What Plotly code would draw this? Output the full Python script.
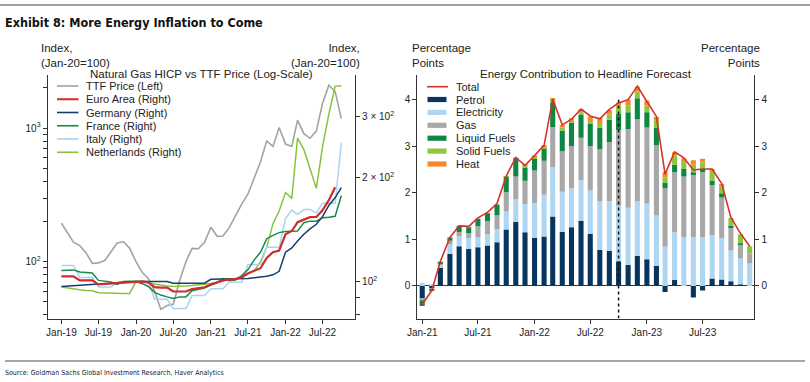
import pandas as pd
import plotly.graph_objects as go

W, H = 810, 382

# ---------------- Left chart data (Jan-19 .. Oct-22) ----------------
left_months = pd.date_range("2019-01-01", periods=46, freq="MS")
ttf = [194, 165, 140, 132, 117, 97, 98, 102, 120, 138, 141, 126,
       100, 83, 75, 60, 44, 47, 48, 72, 100, 126, 125, 140,
       181, 155, 156, 180, 220, 270, 320, 420, 560, 800, 730, 1010,
       760, 730, 1150, 910, 840, 955, 1530, 2100, 1880, 1180]
euro_area = [103.4, 103.4, 103.4, 100.7, 100.7, 100.7, 98, 98.3, 98.5, 99, 99.5, 99.8,
             100, 100, 99.5, 96.3, 96, 96, 93.5, 93.5, 93.5, 95, 95.5, 96.2,
             98, 99.5, 100.7, 101.4, 101.5, 102.9, 105.4, 107.3, 109.2, 117, 121.5, 122.8,
             137, 140, 148.5, 151, 153.5, 153.8, 160.7, 172, 187.5]
germany = [96.7, 97.0, 97.3, 97.6, 97.9, 98.2, 98.4, 98.6, 98.8, 99.2, 99.6, 100,
           100, 100, 100, 100, 100, 100, 98.8, 98.8, 98.8, 98.8, 98.8, 98.8,
           101.4, 101.5, 101.5, 101.5, 101.5, 101.6, 102, 102.5, 102.9, 103.5, 104.5, 107,
           121.5, 125, 131, 137, 142, 146.4, 154, 166, 175, 187]
france = [107.6, 107.8, 108, 106.5, 106.2, 105.8, 100.7, 100.4, 99.7, 98, 100, 100.2,
          100, 98.5, 96.7, 93, 91.3, 90.2, 89.3, 90.2, 90.2, 94, 95, 95.7,
          97.6, 99, 102, 100.7, 101, 104, 108, 115.5, 121.5, 133, 136, 138.5,
          139.6, 139.6, 140, 148, 149.5, 149.5, 153, 153.5, 154.5, 177]
italy = [111.3, 111.3, 111.3, 102.7, 102.7, 102.7, 96.3, 96.3, 96.3, 99.5, 100, 100,
         100, 100, 100, 88.8, 88.8, 88.8, 83.5, 83.5, 83.5, 91, 91, 91,
         95.2, 95.2, 95.2, 99.6, 99.6, 99.6, 112, 112, 112, 125.5, 125.5, 125.5,
         152, 161, 156.5, 161.5, 161.5, 158, 168.5, 168.5, 168.5, 252]
netherlands = [96.3, 95.6, 95.2, 94.6, 94.2, 94, 92.7, 92.5, 92.3, 92.3, 92.2, 92.3,
               100, 99.5, 98.8, 98.2, 97.6, 97, 96.6, 96.6, 97, 97.3, 97.6, 98.2,
               98.6, 99.5, 100.5, 101.4, 102, 102.9, 105.4, 107.3, 114, 125.5, 147, 160,
               181, 174, 260, 241, 212, 186, 245, 305, 368, 369]
left_ticks = pd.date_range("2019-01-01", "2022-07-01", freq="6MS")

# ---------------- Right chart data (Jan-21 .. Dec-23) ----------------
right_months = pd.date_range("2021-01-01", periods=36, freq="MS")
petrol = [-0.28, -0.05, 0.39, 0.69, 0.85, 0.80, 0.83, 0.87, 0.94, 1.21, 1.38, 1.15,
          1.03, 1.06, 1.49, 1.16, 1.26, 1.40, 1.12, 0.77, 0.75, 0.53, 0.45, 0.64,
          0.57, 0.43, -0.13, 0.13, 0.0, -0.25, -0.10, 0.16, 0.14, 0.10, 0.03, 0.0]
electricity = [0.07, 0.02, 0.07, 0.20, 0.21, 0.23, 0.22, 0.24, 0.28, 0.39, 0.48, 0.61,
               0.75, 0.90, 1.06, 0.86, 0.83, 0.87, 0.93, 1.05, 1.07, 1.19, 1.23, 1.18,
               1.20, 1.08, 0.84, 1.02, 1.05, 1.05, 1.05, 0.93, 0.89, 0.66, 0.56, 0.48]
gas = [-0.03, -0.02, 0.02, 0.08, 0.10, 0.10, 0.23, 0.28, 0.30, 0.41, 0.49, 0.50,
       0.70, 0.73, 0.86, 0.87, 0.91, 0.91, 0.95, 1.12, 1.27, 1.63, 1.69, 1.76,
       1.63, 1.51, 1.26, 1.29, 1.30, 1.33, 1.39, 1.08, 0.87, 0.50, 0.31, 0.21]
liquid_fuels = [-0.12, -0.03, 0.04, 0.07, 0.13, 0.13, 0.16, 0.17, 0.23, 0.34, 0.40, 0.27,
                0.25, 0.27, 0.52, 0.45, 0.50, 0.50, 0.48, 0.46, 0.48, 0.35, 0.36, 0.45,
                0.33, 0.38, 0.11, 0.16, 0.16, 0.06, 0.07, 0.09, 0.09, 0.04, 0.01, 0.0]
solid_fuels = [0, 0, 0, 0, 0, 0, 0, 0, 0, 0.01, 0.0, 0.05,
               0.03, 0.03, 0.07, 0.06, 0.05, 0.05, 0.06, 0.10, 0.11, 0.18, 0.15, 0.15,
               0.15, 0.16, 0.12, 0.20, 0.17, 0.16, 0.14, 0.21, 0.15, 0.16, 0.20, 0.16]
heat = [0, 0, 0, 0, 0, 0, 0, 0, 0, 0, 0.0, 0.02,
        0.04, 0.03, 0.02, 0.06, 0.05, 0.07, 0.10, 0.11, 0.10, 0.06, 0.12, 0.10,
        0.10, 0.07, 0.11, 0.07, 0.06, 0.10, 0.08, 0.04, 0.05, 0.0, 0.0, 0.0]
total = [-0.40, -0.10, 0.53, 1.04, 1.29, 1.28, 1.46, 1.58, 1.77, 2.36, 2.76, 2.59,
         2.80, 3.02, 4.01, 3.46, 3.58, 3.80, 3.65, 3.59, 3.79, 3.93, 4.00, 4.29,
         3.96, 3.64, 2.40, 2.88, 2.75, 2.49, 2.51, 2.51, 2.20, 1.47, 1.13, 0.85]
right_ticks = pd.date_range("2021-01-01", "2023-07-01", freq="6MS")
forecast_start = "2022-10-01"

# ---------------- styling ----------------
FONT = "Liberation Sans, Arial, sans-serif"
NARROW = "DejaVu Sans Condensed, Liberation Sans, sans-serif"
TXT = "#222222"
AX = "#333333"

c_ttf, c_ea, c_de, c_fr, c_it, c_nl = "#a3a3a3", "#d12b2b", "#173f6a", "#168a4a", "#a9d3f3", "#86c440"
c_pet, c_ele, c_gas, c_liq, c_sol, c_heat, c_tot = ("#06365f", "#aed6f2", "#a8a8a8", "#0f8642",
                                                     "#8dc63f", "#f5892a", "#d6312b")


def px(x):
    return x / W


def py(y):
    return 1 - y / H


fig = go.Figure()

# left chart lines
fig.add_trace(go.Scatter(x=left_months, y=ttf, xaxis="x", yaxis="y", mode="lines",
                         line=dict(color=c_ttf, width=1.6), showlegend=False))
for vals, col, wd in [(netherlands, c_nl, 1.5), (italy, c_it, 1.5), (france, c_fr, 1.5),
                      (germany, c_de, 1.5), (euro_area, c_ea, 2.2)]:
    fig.add_trace(go.Scatter(x=left_months[:len(vals)], y=vals, xaxis="x", yaxis="y2",
                             mode="lines", line=dict(color=col, width=wd), showlegend=False))

# right chart bars
bar_w = 16.5 * 24 * 3600 * 1000
for vals, col in [(petrol, c_pet), (electricity, c_ele), (gas, c_gas),
                  (liquid_fuels, c_liq), (solid_fuels, c_sol), (heat, c_heat)]:
    fig.add_trace(go.Bar(x=right_months, y=vals, xaxis="x3", yaxis="y3", width=bar_w,
                         marker=dict(color=col, line=dict(width=0)), showlegend=False))
fig.add_trace(go.Scatter(x=right_months, y=total, xaxis="x3", yaxis="y3", mode="lines",
                         line=dict(color=c_tot, width=1.6), showlegend=False))
fig.add_trace(go.Scatter(x=right_months[:1], y=total[:1], xaxis="x3", yaxis="y4", mode="markers",
                         marker=dict(opacity=0), showlegend=False, hoverinfo="skip"))

TOP, BOT = 75, 318.5
common_axis = dict(showline=True, linecolor=AX, linewidth=1.2, ticks="outside", ticklen=4,
                   tickcolor=AX, tickwidth=1.1, showgrid=False, zeroline=False,
                   tickfont=dict(family=FONT, size=10, color=TXT), automargin=False)

fig.update_layout(
    width=W, height=H, margin=dict(l=0, r=0, t=0, b=0),
    paper_bgcolor="white", plot_bgcolor="white", barmode="relative",
    font=dict(family=FONT, color=TXT),
    xaxis=dict(domain=[px(47.7), px(355)], anchor="y", type="date",
               range=["2018-10-26", "2022-12-07"], tickvals=left_ticks, tickformat="%b-%y",
               **common_axis),
    yaxis=dict(domain=[py(BOT), py(TOP)], anchor="x", type="log", range=[1.575, 3.398],
               tickvals=[100, 1000], ticktext=["10<sup>2</sup>", "10<sup>3</sup>"],
               minor=dict(tickvals=[40, 50, 60, 70, 80, 90, 200, 300, 400, 500, 600, 700, 800, 900, 2000],
                          ticks="outside", ticklen=4, tickcolor=AX),
               **common_axis),
    yaxis2=dict(overlaying="y", side="right", anchor="x", type="log", range=[1.8926, 2.598],
                tickvals=[100, 200, 300],
                ticktext=["10<sup>2</sup>", "2 × 10<sup>2</sup>", "3 × 10<sup>2</sup>"],
                minor=dict(tickvals=[80, 90], ticks="outside", ticklen=4, tickcolor=AX),
                **common_axis),
    xaxis3=dict(domain=[px(417.3), px(754.3)], anchor="y3", type="date",
                range=["2020-12-16", "2023-12-16"], tickvals=right_ticks, tickformat="%b-%y",
                **common_axis),
    yaxis3=dict(domain=[py(BOT), py(TOP)], anchor="x3", range=[-0.70, 4.53],
                tickvals=[0, 1, 2, 3, 4], **common_axis),
    yaxis4=dict(overlaying="y3", side="right", anchor="x3", range=[-0.70, 4.53],
                tickvals=[0, 1, 2, 3, 4], **common_axis),
)
fig.update_layout(yaxis3_zeroline=True, yaxis3_zerolinecolor=AX, yaxis3_zerolinewidth=1.2)

shapes = []
annotations = []

# rules
shapes.append(dict(type="line", xref="paper", yref="paper", x0=0, x1=1, y0=py(5), y1=py(5),
                   line=dict(color="#a0a0a0", width=2)))
shapes.append(dict(type="line", xref="paper", yref="paper", x0=px(5), x1=px(805), y0=py(361), y1=py(361),
                   line=dict(color="#8a8a8a", width=1.3)))
# forecast dotted line
shapes.append(dict(type="line", xref="x3", yref="y3", x0=forecast_start, x1=forecast_start,
                   y0=-0.70, y1=4.0, line=dict(color="#111111", width=1.5, dash="dot"), layer="above"))


def text(x, y, s, size=11, anchor="left", family=FONT, bold=False, color=TXT):
    if bold:
        s = "<b>" + s + "</b>"
    annotations.append(dict(xref="paper", yref="paper", x=px(x), y=py(y), text=s, showarrow=False,
                            xanchor=anchor, yanchor="middle", align=anchor,
                            font=dict(family=family, size=size, color=color)))


text(3, 22, "Exhibit 8: More Energy Inflation to Come", size=12.5, family=NARROW, bold=True, color="#111111")
text(3, 373, "Source: Goldman Sachs Global Investment Research, Haver Analytics", size=7, family=NARROW)

text(39, 55.5, "Index,<br>(Jan-20=100)", size=11.5)
text(362, 55.5, "Index,<br>(Jan-20=100)", size=11.5, anchor="right")
text(201.5, 74.5, "Natural Gas HICP vs TTF Price (Log-Scale)", size=11.5, anchor="center")

text(410, 55.5, "Percentage<br>Points", size=11.5)
text(762, 55.5, "Percentage<br>Points", size=11.5, anchor="right")
text(586, 74, "Energy Contribution to Headline Forecast", size=11.5, anchor="center")

# left legend
left_leg = [("TTF Price (Left)", c_ttf, 1.6), ("Euro Area (Right)", c_ea, 2.0),
            ("Germany (Right)", c_de, 1.6), ("France (Right)", c_fr, 1.6),
            ("Italy (Right)", c_it, 1.6), ("Netherlands (Right)", c_nl, 1.6)]
for k, (lab, col, wd) in enumerate(left_leg):
    yy = 86 + 13.25 * k
    shapes.append(dict(type="line", xref="paper", yref="paper", x0=px(57), x1=px(78.5),
                       y0=py(yy), y1=py(yy), line=dict(color=col, width=wd)))
    text(84, yy, lab, size=11)

# right legend
yy = 86.7
shapes.append(dict(type="line", xref="paper", yref="paper", x0=px(427), x1=px(448),
                   y0=py(yy), y1=py(yy), line=dict(color=c_tot, width=1.6)))
text(454, yy, "Total", size=11)
right_leg = [("Petrol", c_pet), ("Electricity", c_ele), ("Gas", c_gas),
             ("Liquid Fuels", c_liq), ("Solid Fuels", c_sol), ("Heat", c_heat)]
for k, (lab, col) in enumerate(right_leg):
    yy = 99.5 + 12.9 * (k)
    shapes.append(dict(type="rect", xref="paper", yref="paper", x0=px(427.5), x1=px(446.5),
                       y0=py(yy + 2.6), y1=py(yy - 2.6), line=dict(width=0), fillcolor=col))
    text(454, yy, lab, size=11)

fig.update_layout(shapes=shapes, annotations=annotations)
fig.write_html("out.html", config={"displayModeBar": False},
               post_script="document.body.style.margin='0px';document.body.style.overflow='hidden';")
